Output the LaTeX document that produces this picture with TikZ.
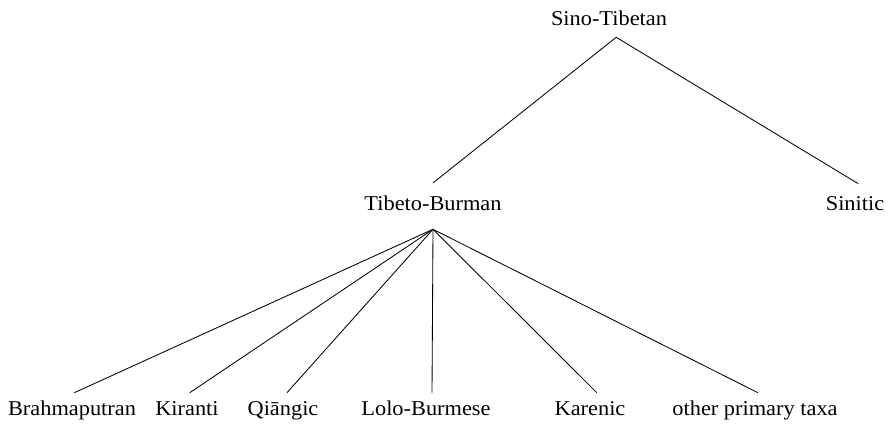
\documentclass[tikz,border=0pt]{standalone}
\usepackage{fontspec}
\setmainfont[FakeStretch=1.06]{Liberation Serif}

\begin{document}
\begin{tikzpicture}[x=0.025cm,y=-0.025cm,
  lang/.style={inner sep=0pt,text height=10pt,text depth=0pt,anchor=base,font=\fontsize{15}{18}\selectfont},
  branch/.style={line width=0.6pt}]
\useasboundingbox (0,0) rectangle (891,430);
\node[lang] (st) at (609,25) {Sino-Tibetan};
\node[lang] (tb) at (433,210) {Tibeto-Burman};
\node[lang] (sin) at (855,210) {Sinitic};
\node[lang] (brah) at (72,415) {Brahmaputran};
\node[lang] (kir) at (187,415) {Kiranti};
\node[lang] (qia) at (283,415) {Qiāngic};
\node[lang] (lolo) at (426,415) {Lolo-Burmese};
\node[lang] (kar) at (590,415) {Karenic};
\node[lang] (oth) at (755,415) {other primary taxa};
\draw[branch] ([yshift=0.32cm]tb.north) -- ([xshift=0.18cm,yshift=-0.3cm]st.south) -- ([xshift=0.08cm,yshift=0.3cm]sin.north);
\foreach \n/\dx in {brah/0.06,kir/0.07,qia/0.1,lolo/0.15,kar/0.17,oth/0.07}
  \draw[branch] ([yshift=-0.475cm]tb.south) -- ([xshift=\dx cm,yshift=0.2cm]\n.north);
\end{tikzpicture}
\end{document}
